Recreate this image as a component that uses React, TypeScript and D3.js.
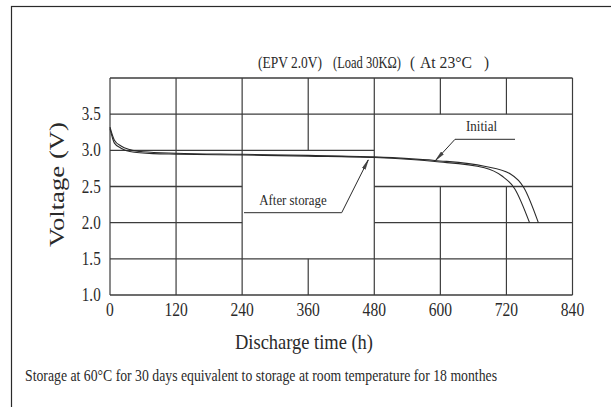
import React from "react";
import * as d3 from "d3";

const xTicks = [0, 120, 240, 360, 480, 600, 720, 840];
const yTicks = [1.0, 1.5, 2.0, 2.5, 3.0, 3.5];

// [hours, volts]
const initialHours = [0, 8, 20, 36, 60, 120, 240, 360, 480, 590, 680, 728, 752, 778];
const initialVolts = [3.32, 3.14, 3.06, 3.01, 2.98, 2.96, 2.945, 2.93, 2.91, 2.86, 2.78, 2.67, 2.48, 2.0];
const storageHours = [0, 8, 20, 36, 78, 120, 240, 360, 480, 590, 680, 712, 735, 762];
const storageVolts = [3.3, 3.1, 3.03, 2.985, 2.955, 2.948, 2.935, 2.92, 2.9, 2.845, 2.76, 2.645, 2.47, 2.0];

// grid segments in data units
const hGridSegments: [number, number, number][] = [
  [4.0, 0, 840], [3.5, 0, 840], [3.0, 0, 480],
  [2.5, 0, 240], [2.5, 480, 840], [2.0, 0, 240], [2.0, 480, 840],
  [1.5, 0, 840], [1.0, 0, 840],
];
const vGridSegments: [number, number, number][] = [
  [0, 1.0, 4.0], [120, 1.0, 4.0], [240, 1.0, 4.0],
  [360, 3.0, 4.0], [360, 1.0, 1.5], [480, 1.0, 4.0],
  [600, 3.5, 4.0], [600, 1.0, 2.5], [720, 3.5, 4.0], [720, 1.0, 2.5],
  [840, 1.0, 4.0],
];

const titleParts = ["(EPV 2.0V)", "(Load 30KΩ)", "(", "At 23°C", ")"];
const xLabel = "Discharge time (h)";
const yLabel = "Voltage (V)";
const footnote = "Storage at 60°C for 30 days equivalent to storage at room temperature for 18 monthes";
const initialLabel = "Initial";
const storageLabel = "After storage";

const FONT = "'Liberation Serif', 'Times New Roman', serif";
const INK = "#2a2a2a";
const GRID = "#3c3c3c";

// title piece layout [x, width]
const titleLayout: [number, number][] = [[258, 64], [333, 68], [410, 5], [420, 52], [484, 5]];

export default function App() {
  const x = d3.scaleLinear().domain([0, 840]).range([110, 572.5]);
  const y = d3.scaleLinear().domain([1, 4]).range([295, 78]);

  const line = d3
    .line<[number, number]>()
    .x((d) => x(d[0]))
    .y((d) => y(d[1]))
    .curve(d3.curveMonotoneX);

  const initialData = initialHours.map((h, i) => [h, initialVolts[i]] as [number, number]);
  const storageData = storageHours.map((h, i) => [h, storageVolts[i]] as [number, number]);

  return (
    <svg
      width={611}
      height={407}
      style={{ position: "absolute", left: 0, top: 0, background: "#fff" }}
      fontFamily={FONT}
    >
      <defs>
        <marker id="arr" viewBox="0 0 10 4" refX={10} refY={2} markerWidth={10} markerHeight={4} markerUnits="userSpaceOnUse" orient="auto">
          <path d="M0,0.4 L10,2 L0,3.6 Z" fill="#444" stroke={INK} strokeWidth={0.5} />
        </marker>
      </defs>
      <rect x={11.5} y={6.5} width={700} height={500} fill="none" stroke={INK} strokeWidth={1.2} />

      {titleParts.map((s, i) => (
        <text key={s} x={titleLayout[i][0]} y={68} fontSize={17} fill={INK} textLength={titleLayout[i][1]} lengthAdjust="spacingAndGlyphs">
          {s}
        </text>
      ))}

      {hGridSegments.map(([v, h0, h1], i) => (
        <line key={"h" + i} x1={x(h0)} x2={x(h1)} y1={y(v)} y2={y(v)} stroke={GRID} strokeWidth={1.4} />
      ))}
      {vGridSegments.map(([h, v0, v1], i) => (
        <line key={"v" + i} x1={x(h)} x2={x(h)} y1={y(v0)} y2={y(v1)} stroke={GRID} strokeWidth={1.2} />
      ))}

      <path d={line(storageData) || ""} fill="none" stroke={INK} strokeWidth={1.1} />
      <path d={line(initialData) || ""} fill="none" stroke={INK} strokeWidth={1.1} />

      {yTicks.map((t) => (
        <text key={"yt" + t} transform={`translate(100.7,${y(t) + 6}) scale(0.84,1)`} textAnchor="end" fontSize={18} fill={INK}>
          {t.toFixed(1)}
        </text>
      ))}
      {xTicks.map((t) => (
        <text key={"xt" + t} transform={`translate(${x(t)},316) scale(0.82,1)`} textAnchor="middle" fontSize={19} fill={INK}>
          {t}
        </text>
      ))}

      <text x={304} y={349} textAnchor="middle" fontSize={21.5} fill={INK} textLength={138} lengthAdjust="spacingAndGlyphs">
        {xLabel}
      </text>
      <text transform="translate(64,184.5) rotate(-90)" textAnchor="middle" fontSize={21} fill={INK} textLength={125} lengthAdjust="spacingAndGlyphs">
        {yLabel}
      </text>

      <text x={25} y={380.5} fontSize={16.5} fill={INK} textLength={472} lengthAdjust="spacingAndGlyphs">
        {footnote}
      </text>

      {/* annotations */}
      <text x={466} y={131} fontSize={15} fill={INK} textLength={31} lengthAdjust="spacingAndGlyphs">
        {initialLabel}
      </text>
      <polyline points={`515,139.3 455,139.3 435.5,160.5`} fill="none" stroke={INK} strokeWidth={1} markerEnd="url(#arr)" />
      <text x={259.3} y={205} fontSize={15} fill={INK} textLength={67.4} lengthAdjust="spacingAndGlyphs">
        {storageLabel}
      </text>
      <polyline points={`244,212.7 341.7,212.7 368.3,159.8`} fill="none" stroke={INK} strokeWidth={1} markerEnd="url(#arr)" />
    </svg>
  );
}
